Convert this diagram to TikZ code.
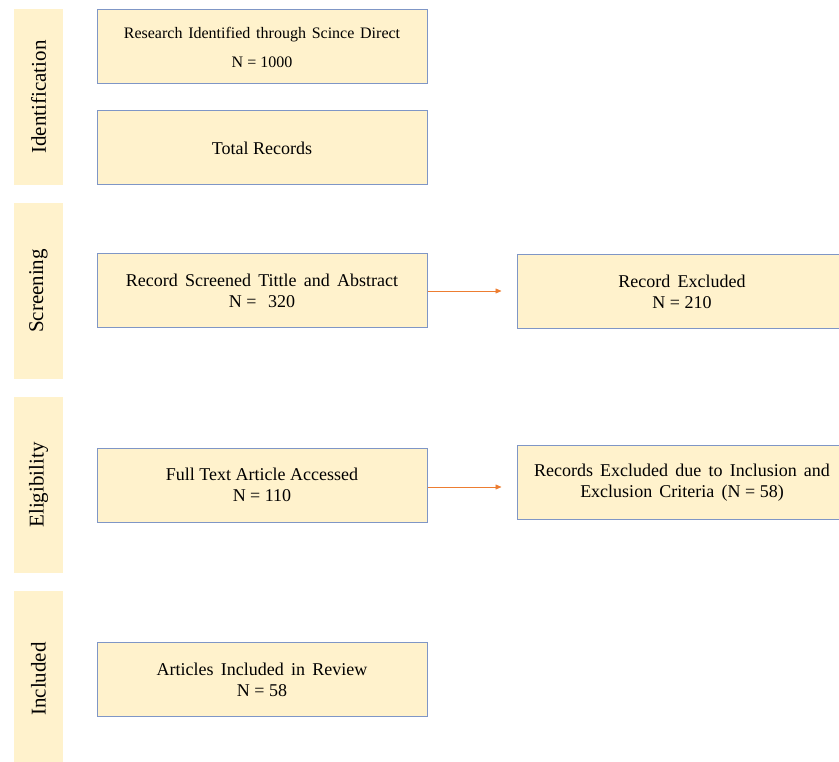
\documentclass[tikz,border=0pt]{standalone}
\usepackage{fontspec}
\setmainfont{Liberation Serif}
\usetikzlibrary{arrows.meta}
\definecolor{paleyellow}{HTML}{FFF2CC}
\definecolor{boxblue}{HTML}{7F96C6}
\definecolor{flowamber}{HTML}{ED7D31}
\newcommand\tally[1]{N\hskip.25em=\hskip.25em#1}
\begin{document}
\begin{tikzpicture}[x=1pt,y=-1pt,
    stage/.style={fill=paleyellow,rotate=90,minimum width=176pt,minimum height=49pt,inner sep=0pt,font=\fontsize{21}{25}\selectfont},
    record/.style={draw=boxblue,line width=1pt,fill=paleyellow,minimum width=330pt,minimum height=74pt,inner sep=2pt,align=center,font=\fontsize{18}{21}\selectfont},
    widegap/.style={execute at begin node={\spaceskip=#1\relax}},
    widegap/.default=0.4em,
    flow/.style={flowamber,line width=0.7pt,shorten >=15pt,-{Triangle[length=6pt,width=5pt]}}]
  \useasboundingbox (0,0) rectangle (839,762);
  \node[stage] (identification) at (38.5,97) {Identification};
  \node[stage] (screening) at (38.5,291) {Screening};
  \node[stage] (eligibility) at (38.5,485) {Eligibility};
  \node[stage] (included) at (38.5,679) {Included};
  \node[record,font=\fontsize{16}{29}\selectfont,widegap=0.36em] (sciencedirect) at (262,47) {Research Identified through Scince Direct\\\tally{1000}};
  \node[record] (total) at (262,148) {Total Records};
  \node[record,widegap] (screened) at (262,291) {Record Screened Tittle and Abstract\\\tally{\hskip.4em 320}};
  \node[record,widegap] (excluded) at (682,291.5) {Record Excluded\\\tally{210}};
  \node[record] (fulltext) at (262,485) {Full Text Article Accessed\\\tally{110}};
  \node[record,widegap] (criteria) at (682,482.5) {Records Excluded due to Inclusion and\\Exclusion Criteria (\tally{58})};
  \node[record,widegap] (review) at (262,679.5) {Articles Included in Review\\\tally{58}};
  \draw[flow] (screened.east) -- (excluded.west |- screened.east);
  \draw[flow] ([yshift=-2pt]fulltext.east) -- ([yshift=-2pt]criteria.west |- fulltext.east);
\end{tikzpicture}
\end{document}
